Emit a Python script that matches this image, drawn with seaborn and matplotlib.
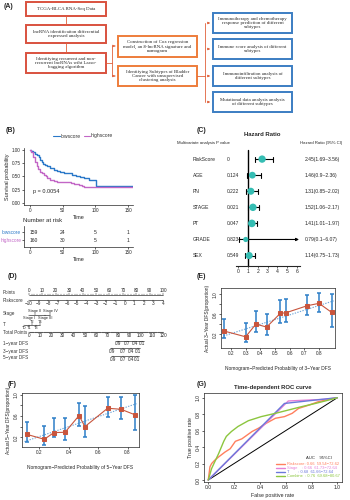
import numpy as np
import pandas as pd
import matplotlib
matplotlib.use("Agg")
import matplotlib.pyplot as plt
import seaborn as sns
from matplotlib.patches import Rectangle
from matplotlib.transforms import blended_transform_factory

# ---------------- data ----------------
# (B) Kaplan-Meier
km_low_time = [0, 2, 5, 8, 10, 13, 15, 18, 20, 23, 26, 31, 36, 41, 46, 52, 57, 64, 70, 76, 82, 90, 101, 158]
km_low_surv = [1.0, 0.99, 0.96, 0.93, 0.90, 0.86, 0.81, 0.78, 0.74, 0.71, 0.69, 0.66, 0.625, 0.61,
               0.59, 0.57, 0.56, 0.535, 0.51, 0.49, 0.47, 0.43, 0.31, 0.31]
km_high_time = [0, 2, 4, 5, 7, 8, 10, 12, 15, 18, 21, 24, 26, 31, 36, 41, 50, 62, 67, 75, 80, 82, 158]
km_high_surv = [1.0, 0.97, 0.92, 0.87, 0.82, 0.78, 0.69, 0.64, 0.59, 0.56, 0.53, 0.50, 0.47, 0.43,
                0.41, 0.39, 0.385, 0.37, 0.35, 0.33, 0.31, 0.29, 0.29]
risk_times = [0, 50, 100, 150]
risk_low = [159, 24, 5, 1]
risk_high = [160, 30, 5, 1]
p_value_text = "p = 0.0054"

# (C) multivariate Cox
forest_vars = ["RiskScore", "AGE", "PN", "STAGE", "PT", "GRADE", "SEX"]
forest_p = ["0", "0.124", "0.222", "0.021", "0.047", "0.823", "0.549"]
forest_hr = [2.45, 1.46, 1.31, 1.52, 1.41, 0.79, 1.14]
forest_lo = [1.69, 0.9, 0.85, 1.06, 1.01, 0.1, 0.75]
forest_hi = [3.56, 2.36, 2.02, 2.17, 1.97, 6.07, 1.73]

# (D) nomogram
nomo_points = list(range(0, 101, 10))
nomo_risk = list(range(-10, 5))
nomo_stage = ["Stage I", "Stage II", "Stage III", "Stage IV"]
nomo_stage_pts = [0, 4.5, 12, 16]
nomo_t = ["T0", "T1", "T2", "T3", "T4"]
nomo_t_pts = [-3.5, 0, 2, 5, 8.5]
nomo_total = list(range(0, 121, 10))
nomo_dfs_labels = ["0.9", "0.7", "0.4", "0.1"]
nomo_dfs1 = [79.7, 87.8, 94.9, 101.2]
nomo_dfs3 = [74.3, 84.2, 91.3, 97.6]
nomo_dfs5 = [75.2, 84.2, 91.3, 96.7]

# (E) calibration 3-year
cal3_x = [0.155, 0.30, 0.37, 0.443, 0.536, 0.575, 0.72, 0.80, 0.886]
cal3_y = [0.267, 0.153, 0.407, 0.347, 0.62, 0.633, 0.773, 0.82, 0.64]
cal3_lo = [0.133, 0.053, 0.253, 0.187, 0.42, 0.44, 0.587, 0.64, 0.34]
cal3_hi = [0.507, 0.42, 0.67, 0.613, 0.887, 0.907, 0.987, 1.02, 1.0]
cal3_ref_x = [0.15, 0.9]
cal3_ref_y = [0.17, 0.87]

# (F) calibration 5-year
cal5_x = [0.114, 0.234, 0.30, 0.375, 0.47, 0.51, 0.664, 0.755, 0.852]
cal5_y = [0.256, 0.163, 0.288, 0.294, 0.606, 0.40, 0.744, 0.725, 0.619]
cal5_lo = [0.12, 0.056, 0.21, 0.15, 0.42, 0.21, 0.575, 0.54, 0.34]
cal5_hi = [0.48, 0.42, 0.56, 0.56, 0.84, 0.79, 0.95, 0.96, 1.0]
cal5_ref_x = [0.10, 0.86]
cal5_ref_y = [0.12, 0.83]

# (G) ROC
roc_risk_fpr = [0, 0.013, 0.026, 0.05, 0.08, 0.13, 0.17, 0.21, 0.26, 0.34, 0.39, 0.45, 0.52, 0.59,
                0.65, 0.70, 0.78, 0.85, 0.93, 1.0]
roc_risk_tpr = [0, 0.16, 0.20, 0.24, 0.28, 0.34, 0.38, 0.47, 0.50, 0.59, 0.63, 0.69, 0.75, 0.77,
                0.81, 0.87, 0.91, 0.95, 0.98, 1.0]
roc_stage_fpr = [0, 0.62, 0.9, 1.0]
roc_stage_tpr = [0, 0.96, 0.98, 1.0]
roc_t_fpr = [0, 0.59, 0.88, 1.0]
roc_t_tpr = [0, 0.93, 0.98, 1.0]
roc_comb_fpr = [0, 0.026, 0.05, 0.08, 0.12, 0.14, 0.18, 0.23, 0.31, 0.41, 0.52, 0.62, 0.72, 0.83, 0.93, 1.0]
roc_comb_tpr = [0, 0.14, 0.22, 0.32, 0.47, 0.53, 0.59, 0.65, 0.72, 0.77, 0.81, 0.85, 0.89, 0.93, 0.97, 1.0]
roc_names = ["Riskscore", "Stage", "T", "Combine"]
roc_auc = ["0.66", "0.66", "0.68", "0.76"]
roc_ci = ["59.54\u221272.62", "61.73\u221272.64", "61.66\u221272.64", "69.68\u221280.67"]

# ---------------- figure ----------------
sns.set_theme(style="ticks")
plt.rcParams["font.family"] = ["Liberation Sans", "DejaVu Sans"]
plt.rcParams["axes.linewidth"] = 0.5

W, H = 350, 500
fig = plt.figure(figsize=(3.5, 5), dpi=100)


def px_axes(x0, y0, x1, y1):
    return fig.add_axes([x0 / W, 1 - y1 / H, (x1 - x0) / W, (y1 - y0) / H])


def small_ticks(ax, size=3.3):
    ax.tick_params(labelsize=size, length=1.5, width=0.5, pad=1)


# transparent overlay on top, pixel coordinates (flowchart, nomogram, labels)
ov = fig.add_axes([0, 0, 1, 1])
ov.set_xlim(0, W)
ov.set_ylim(H, 0)
ov.axis("off")
ov.set_zorder(10)

for lbl, x, y in [("(A)", 4, 6), ("(B)", 6, 131), ("(C)", 197, 131), ("(D)", 8, 276),
                  ("(E)", 197, 277), ("(F)", 8, 384), ("(G)", 197, 384)]:
    ov.text(x, y, lbl, fontsize=5, fontweight="bold", va="center", ha="left")

# ---- (A) flowchart ----
red, orange, blue = "#D9523F", "#EE7D3B", "#3C7EC3"
boxes = [
    (26, 2, 106, 16, red, "TCGA-BLCA RNA-Seq Data"),
    (26, 25, 106, 43, red, "lncRNA identificaiton differential\nexpressed analysis"),
    (26, 53, 106, 73, red, "Identifying recurrent and non-\nrecurrent lncRNAs wiht Lasso-\nbagging algorithm"),
    (118, 36, 197, 57, orange, "Construction of Cox regression\nmodel, an 8-lncRNA signature and\nnomogram"),
    (118, 66, 197, 86, orange, "Identifying Subtypes of Bladder\nCancer with unsupervised\nclustering analysis"),
    (213, 13, 292, 33, blue, "Immunotherapy and chemotherapy\nresponse prediction of different\nsubtypes"),
    (213, 39, 292, 59, blue, "Immune score analysis of different\nsubtypes"),
    (213, 66, 292, 86, blue, "Immunoinfiltration analysis of\ndifferent subtypes"),
    (213, 92, 292, 112, blue, "Mutational data analysis analysis\nof different subtypes"),
]
for x0, y0, x1, y1, col, txt in boxes:
    ov.add_patch(Rectangle((x0 + 1, y0 + 1), x1 - x0, y1 - y0, fc="#dddddd", ec="none", zorder=1))
    ov.add_patch(Rectangle((x0, y0), x1 - x0, y1 - y0, fc="white", ec=col, lw=1.4, zorder=2))
    ov.text((x0 + x1) / 2, (y0 + y1) / 2, txt, fontsize=3.5, ha="center", va="center",
            family=["Liberation Serif", "DejaVu Serif"], linespacing=1.0, zorder=3)

lc = "#E0603A"
ov.plot([66, 66], [16, 25], color=lc, lw=0.6)
ov.plot([66, 66], [43, 53], color=lc, lw=0.6)
ov.plot([106, 112], [63, 63], color=lc, lw=0.6)
ov.plot([112, 112], [46, 76], color=lc, lw=0.6)
for yy in [46, 76]:
    ov.annotate("", xy=(118, yy), xytext=(112, yy),
                arrowprops=dict(arrowstyle="-|>", color=lc, lw=0.6, mutation_scale=3))
ov.plot([197, 205], [76, 76], color=lc, lw=0.6)
ov.plot([205, 205], [23, 102], color=lc, lw=0.6)
for yy in [23, 49, 76, 102]:
    ov.annotate("", xy=(213, yy), xytext=(205, yy),
                arrowprops=dict(arrowstyle="-|>", color=lc, lw=0.6, mutation_scale=3))

# ---- (B) Kaplan-Meier ----
c_low, c_high = "#2A78C8", "#C266C6"
ax_km = px_axes(24, 148, 133, 205)
sns.lineplot(x=km_low_time, y=km_low_surv, ax=ax_km, color=c_low, lw=1.0, drawstyle="steps-post")
sns.lineplot(x=km_high_time, y=km_high_surv, ax=ax_km, color=c_high, lw=1.0, drawstyle="steps-post")
ax_km.set_xlim(-9.2, 157.3)
ax_km.set_ylim(-0.043, 1.038)
ax_km.set_xticks(risk_times)
ax_km.set_yticks([0, 0.25, 0.5, 0.75, 1.0])
ax_km.set_yticklabels(["0.00", "0.25", "0.50", "0.75", "1.00"])
small_ticks(ax_km)
ax_km.set_xlabel("Time", fontsize=4, labelpad=1)
ax_km.set_ylabel("Survival probability", fontsize=4, labelpad=1)
ax_km.text(5, 0.21, p_value_text, fontsize=4, va="center")
sns.despine(ax=ax_km)
ov.plot([53, 60], [136, 136], color=c_low, lw=0.8)
ov.text(61, 136, "lowscore", fontsize=3.6, va="center", color="#333333")
ov.plot([84, 90], [136, 136], color=c_high, lw=0.8)
ov.text(91, 136, "highscore", fontsize=3.6, va="center", color="#333333")

ov.text(23, 221, "Number at risk", fontsize=4.3, va="center")
ax_rt = px_axes(24, 226, 133, 247)
ax_rt.set_xlim(-9.2, 157.3)
ax_rt.set_ylim(1.875, -0.75)
for t, a, b in zip(risk_times, risk_low, risk_high):
    ax_rt.text(t, 0, str(a), fontsize=3.6, va="center", ha="left" if t == 0 else "center")
    ax_rt.text(t, 1, str(b), fontsize=3.6, va="center", ha="left" if t == 0 else "center")
ax_rt.set_xticks(risk_times)
ax_rt.set_yticks([0, 1])
ax_rt.set_yticklabels(["lowscore", "highscore"])
for tl, col in zip(ax_rt.get_yticklabels(), [c_low, c_high]):
    tl.set_color(col)
small_ticks(ax_rt)
ax_rt.tick_params(axis="y", labelsize=3.4, pad=0.5)
ax_rt.set_xlabel("Time", fontsize=4, labelpad=1)
sns.despine(ax=ax_rt)

# ---- (C) forest plot ----
ov.text(262, 134, "Hazard Ratio", fontsize=4.3, fontweight="bold", ha="center", va="center")
ax_f = px_axes(236, 148, 300, 266)
ax_f.patch.set_alpha(0)
rows = np.arange(len(forest_vars))
ax_f.set_xlim(-0.2, 6.3)
ax_f.set_ylim(6.65, -0.69)
ax_f.plot([1, 1], [6.65, -0.55], color="black", lw=1.0, zorder=1)
weights = 1 / (np.log(forest_hi) - np.log(forest_lo))
for i, (lo, hi) in enumerate(zip(forest_lo, forest_hi)):
    ax_f.plot([lo, lo], [i - 0.16, i + 0.16], color="black", lw=0.8, zorder=2)
    if hi > 6:
        ax_f.annotate("", xy=(6.2, i), xytext=(lo, i),
                      arrowprops=dict(arrowstyle="-|>", color="black", lw=0.8,
                                      mutation_scale=4, shrinkA=0, shrinkB=0), zorder=2)
    else:
        ax_f.plot([lo, hi], [i, i], color="black", lw=0.8, zorder=2)
        ax_f.plot([hi, hi], [i - 0.16, i + 0.16], color="black", lw=0.8, zorder=2)
df_forest = pd.DataFrame({"hr": forest_hr, "row": rows, "w": weights})
sns.scatterplot(data=df_forest, x="hr", y="row", size="w", sizes=(14, 30), color="#35BDB3",
                edgecolor="none", legend=False, ax=ax_f, zorder=5)
ax_f.set_xlim(-0.2, 6.3)
ax_f.set_ylim(6.65, -0.69)
ax_f.set_xticks(range(0, 7))
ax_f.set_yticks([])
ax_f.set_xlabel("")
ax_f.set_ylabel("")
small_ticks(ax_f, 3.6)
for s in ["top", "right", "left"]:
    ax_f.spines[s].set_visible(False)
ax_f.spines["bottom"].set_linewidth(0.8)
tr = blended_transform_factory(fig.transFigure, ax_f.transData)
ov.text(177, 143, "Multivariate analysis", fontsize=3.1, va="center")
ov.text(216, 143, "P value", fontsize=3.1, va="center")
ov.text(300, 143, "Hazard Ratio (95% CI)", fontsize=3.1, va="center")
for i, (v, p, h, lo, hi) in enumerate(zip(forest_vars, forest_p, forest_hr, forest_lo, forest_hi)):
    fig.text(193 / W, i, v, fontsize=3.6, va="center", transform=tr)
    fig.text(227 / W, i, p, fontsize=3.5, va="center", transform=tr)
    fig.text(305 / W, i, f"{h}({lo}~{hi})", fontsize=3.6, va="center", transform=tr)

# ---- (D) nomogram ----
def npx(pts):
    return 29 + np.asarray(pts, dtype=float) * 1.34


def tpx(tp):
    return 29 + np.asarray(tp, dtype=float) * 134 / 120


fs_n = 3.3
row_labels = [("Points", 292), ("Riskscore", 300), ("Stage", 314), ("T", 325), ("Total Points", 332),
              ("1\u2212year DFS", 343), ("3\u2212year DFS", 351), ("5\u2212year DFS", 358)]
for txt, yy in row_labels:
    ov.text(3, yy, txt, fontsize=fs_n, va="center", color="#333333")

ov.plot([npx(0), npx(100)], [295, 295], color="black", lw=0.4)
for p in range(0, 101, 2):
    ov.plot([npx(p)] * 2, [295, 294 if p % 10 else 293.3], color="black", lw=0.3)
for p in nomo_points:
    ov.text(npx(p), 290.5, str(p), fontsize=fs_n, ha="center", va="center")
rs_pts = [(v + 10) / 14 * 100 for v in nomo_risk]
ov.plot([npx(rs_pts[0]), npx(rs_pts[-1])], [299.5, 299.5], color="black", lw=0.4)
for v, p in zip(nomo_risk, rs_pts):
    ov.plot([npx(p)] * 2, [299.5, 300.8], color="black", lw=0.3)
    ov.text(npx(p), 303.3, str(v).replace("-", "\u2212"), fontsize=fs_n, ha="center", va="center")
ov.plot([npx(nomo_stage_pts[0]), npx(nomo_stage_pts[-1])], [314.5, 314.5], color="black", lw=0.4)
for k, (s, p) in enumerate(zip(nomo_stage, nomo_stage_pts)):
    up = k % 2 == 1
    ov.plot([npx(p)] * 2, [314.5, 313.4 if up else 315.6], color="black", lw=0.3)
    ov.text(npx(p), 311.0 if up else 317.7, s, fontsize=2.8, ha="center", va="center")
ov.plot([npx(nomo_t_pts[0]), npx(nomo_t_pts[-1])], [324.5, 324.5], color="black", lw=0.4)
for s, p in zip(nomo_t, nomo_t_pts):
    up = s in ("T2", "T4")
    ov.plot([npx(p)] * 2, [324.5, 323.4 if up else 325.6], color="black", lw=0.3)
    ov.text(npx(p), 321.6 if up else 327.8, s, fontsize=2.8, ha="center", va="center")
ov.plot([tpx(0), tpx(120)], [331.5, 331.5], color="black", lw=0.4)
for p in range(0, 121, 2):
    ov.plot([tpx(p)] * 2, [331.5, 332.5 if p % 10 else 333.0], color="black", lw=0.3)
for p in nomo_total:
    ov.text(tpx(p), 335.6, str(p), fontsize=fs_n, ha="center", va="center")
for vals, yy in [(nomo_dfs1, 340.5), (nomo_dfs3, 348.3), (nomo_dfs5, 355.8)]:
    ov.plot([tpx(vals[0] - 1.5), tpx(vals[-1] + 1.5)], [yy, yy], color="black", lw=0.4)
    for lab, p in zip(nomo_dfs_labels, vals):
        ov.plot([tpx(p)] * 2, [yy, yy + 1.2], color="black", lw=0.3)
        ov.text(tpx(p), yy + 3.3, lab, fontsize=fs_n, ha="center", va="center")

# ---- calibration plots ----
c_err, c_red = "#2D7FC8", "#C8553D"


def calib(ax, x, y, lo, hi, rx, ry):
    ax.plot(rx, ry, color="#6FA6D8", lw=0.8, ls=(0, (1.2, 1.2)), zorder=1)
    y_arr = np.array(y)
    ax.errorbar(x, y, yerr=[y_arr - np.array(lo), np.array(hi) - y_arr], fmt="none",
                ecolor=c_err, elinewidth=1.1, capsize=1.2, capthick=1.1, zorder=2)
    sns.lineplot(x=x, y=y, ax=ax, color=c_red, lw=0.8, marker="s", markersize=2.2,
                 markeredgecolor=c_red, zorder=3)
    for s in ax.spines.values():
        s.set_visible(True)
        s.set_linewidth(0.5)
    ax.set_yticks([0.2, 0.4, 0.6, 0.8, 1.0])
    ax.set_yticklabels(["0.2", "", "0.6", "", "1.0"], rotation=90, va="center")
    small_ticks(ax, 3.4)


ax_e = px_axes(221, 288, 335, 348)
calib(ax_e, cal3_x, cal3_y, cal3_lo, cal3_hi, cal3_ref_x, cal3_ref_y)
ax_e.set_xlim(0.132, 0.909)
ax_e.set_ylim(-0.07, 1.126)
ax_e.set_xticks([0.2, 0.3, 0.4, 0.5, 0.6, 0.7, 0.8])
ax_e.set_xlabel("Nomogram\u2212Predicted Probability of 3\u2212Year DFS", fontsize=3.5, labelpad=7)
ax_e.set_ylabel("Actual 3\u2212Year DFS(proportion)", fontsize=3.5, labelpad=2)

ax_fc = px_axes(22, 393, 139, 447)
calib(ax_fc, cal5_x, cal5_y, cal5_lo, cal5_hi, cal5_ref_x, cal5_ref_y)
ax_fc.set_xlim(0.083, 0.877)
ax_fc.set_ylim(0.018, 1.03)
ax_fc.set_xticks([0.2, 0.4, 0.6, 0.8])
ax_fc.set_xlabel("Nomogram\u2212Predicted Probability of 5\u2212Year DFS", fontsize=3.5, labelpad=7)
ax_fc.set_ylabel("Actual 5\u2212Year DFS(proportion)", fontsize=3.5, labelpad=2)

# ---- (G) ROC ----
roc_cols = ["#FF7F5E", "#E57FD6", "#6B78DA", "#8CC63F"]
ax_g = px_axes(204, 393, 342, 482)
ax_g.plot([0, 1], [0, 1], color="black", lw=0.7)
roc_sets = [(roc_risk_fpr, roc_risk_tpr), (roc_stage_fpr, roc_stage_tpr),
            (roc_t_fpr, roc_t_tpr), (roc_comb_fpr, roc_comb_tpr)]
for (fx, fy), col in zip(roc_sets, roc_cols):
    sns.lineplot(x=fx, y=fy, ax=ax_g, color=col, lw=1.0, sort=False)
ax_g.set_xlim(-0.033, 1.036)
ax_g.set_ylim(-0.024, 1.057)
ax_g.set_xticks(np.arange(0, 1.01, 0.2))
ax_g.set_yticks(np.arange(0, 1.01, 0.2))
ax_g.set_xticklabels([f"{v:.1f}" for v in np.arange(0, 1.01, 0.2)])
ax_g.set_yticklabels([f"{v:.1f}" for v in np.arange(0, 1.01, 0.2)], rotation=90, va="center")
small_ticks(ax_g, 3.6)
for s in ax_g.spines.values():
    s.set_visible(True)
    s.set_linewidth(0.5)
ax_g.set_xlabel("False positive rate", fontsize=3.8, labelpad=1.5)
ax_g.set_ylabel("True positive rate", fontsize=3.8, labelpad=1.5)
ax_g.set_title("Time-dependent ROC curve", fontsize=4.2, fontweight="bold", pad=3)
ov.text(306, 458, "AUC    95%CI", fontsize=3.0, va="center")
for k, (nm, auc, ci, col) in enumerate(zip(roc_names, roc_auc, roc_ci, roc_cols)):
    yy = 464 + k * 4.1
    ov.plot([276, 285], [yy, yy], color=col, lw=1.0)
    ov.text(287, yy, f"{nm:<9}: {auc}  {ci}", fontsize=2.9, va="center", color=col)

fig.savefig("out.png", dpi=100)
